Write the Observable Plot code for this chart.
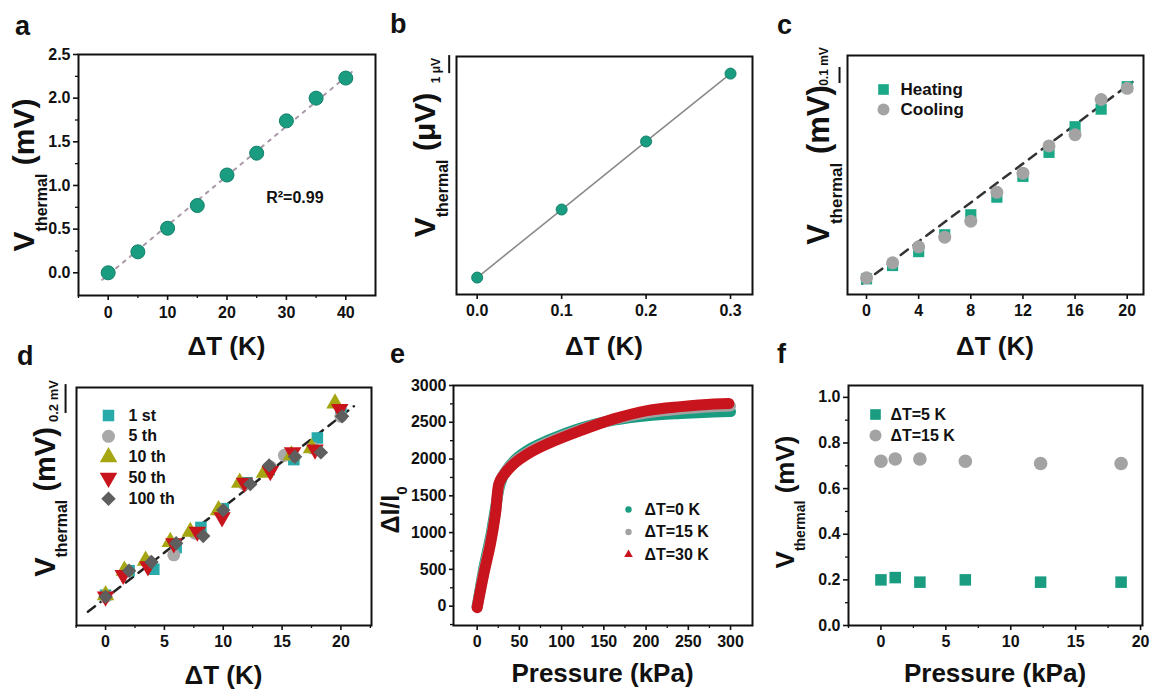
<!DOCTYPE html>
<html><head><meta charset="utf-8">
<script src="https://cdn.jsdelivr.net/npm/d3@7"></script>
<script src="https://cdn.jsdelivr.net/npm/@observablehq/plot@0.6"></script>
<style>
body{margin:0;background:#fff;}
#fig{position:relative;width:1153px;height:691px;overflow:hidden;font-family:"Liberation Sans",Arial,Helvetica,sans-serif;font-weight:bold;color:#111;background:#fff;}
.panel{position:absolute;}
.txt{position:absolute;white-space:nowrap;font-weight:bold;line-height:1;}
.sub{position:relative;}
</style></head>
<body><div id="fig"></div>
<script>
// ---------- Panel a ----------
const aDeltaT = [0,5,10,15,20,25,30,35,40];
const aVth = [0,0.24,0.51,0.77,1.12,1.37,1.74,2.00,2.23];
const aFitDeltaT = [-1,41];
const aFitV = [-0.08,2.30];
const aXTicks = [0,10,20,30,40];
const aXMinor = [-5,5,15,25,35];
const aYTicks = [0,0.5,1,1.5,2,2.5];
const aYMinor = [0.25,0.75,1.25,1.75,2.25];
const aNote = "R²=0.99";
const aNotePos = [26.6,0.86];

// ---------- Panel b (μV) ----------
const bDeltaT = [0,0.1,0.2,0.3];
const bVth = [0,3.78,7.56,11.33];
const bXTicks = [0,0.1,0.2,0.3];
const bScaleBar = [11.33,12.33];
const bScaleText = "1 μV";

// ---------- Panel c ----------
const cDeltaT = [0,2,4,6,8,10,12,14,16,18,20];
const cHeating = [0,0.083,0.17,0.275,0.40,0.51,0.64,0.79,0.95,1.06,1.20];
const cCooling = [0.006,0.10,0.20,0.26,0.36,0.54,0.66,0.83,0.90,1.12,1.19];
const cFitDeltaT = [-0.33,20.4];
const cFitV = [-0.03,1.23];
const cXTicks = [0,4,8,12,16,20];
const cScaleBar = [1.22,1.32];
const cScaleText = "0.1 mV";
const cSeries = ["Heating","Cooling"];

// ---------- Panel d ----------
const dSeries = ["1 st","5 th","10 th","50 th","100 th"];
const d1stT = [0,2.0,4.1,6.0,8.1,10.0,12.0,13.9,16.0,18.0,20.0];
const d1stV = [0,0.17,0.18,0.33,0.47,0.60,0.78,0.87,0.94,1.09,1.26];
const d5thT = [0,1.8,3.7,5.8,7.6,9.8,11.8,14.0,15.2,17.6,20.0];
const d5thV = [-0.01,0.17,0.23,0.28,0.43,0.59,0.77,0.89,0.97,1.02,1.24];
const d10thT = [0,1.6,3.4,5.5,7.2,9.6,11.4,13.5,15.8,17.5,19.5];
const d10thV = [0,0.17,0.24,0.37,0.44,0.59,0.78,0.85,0.97,1.02,1.33];
const d50thT = [0,1.5,3.6,5.8,7.8,9.9,11.8,14.0,15.9,17.8,19.9];
const d50thV = [-0.01,0.14,0.20,0.36,0.44,0.54,0.78,0.86,0.99,1.01,1.29];
const d100thT = [0,2.0,3.9,6.0,8.3,10.0,12.3,13.9,16.1,18.3,20.1];
const d100thV = [-0.01,0.17,0.23,0.36,0.41,0.59,0.77,0.90,0.96,0.99,1.24];
const dFitDeltaT = [-1.5,21.1];
const dFitV = [-0.115,1.31];
const dXTicks = [0,5,10,15,20];
const dXMinor = [-2.5,2.5,7.5,12.5,17.5,22.5];
const dScaleBar = [1.26,1.46];
const dScaleText = "0.2 mV";

// ---------- Panel e ----------
const eSeries = ["ΔT=0 K","ΔT=15 K","ΔT=30 K"];
const e0P = [0,1,8,16,22,27,33,45,63,83,122,162,201,241,280,300];
const e0I = [0,60,520,950,1350,1650,1820,1990,2140,2250,2420,2530,2590,2620,2640,2645];
const e15P = [0,1,8,16,22,26,30,43,63,83,122,162,201,241,280,300];
const e15I = [-10,50,480,900,1300,1650,1770,1950,2110,2225,2400,2540,2630,2680,2710,2720];
const e30P = [0,1,7.9,15.8,21.7,25.7,29.6,43.4,63.2,82.9,122.4,161.9,201.4,240.9,280.3,298];
const e30I = [-20,40,440,848,1255,1663,1753,1935,2093,2206,2387,2546,2659,2713,2750,2755];
const eXTicks = [0,50,100,150,200,250,300];
const eXMinor = [25,75,125,175,225,275];
const eYTicks = [0,500,1000,1500,2000,2500,3000];
const eYMinor = [-250,250,750,1250,1750,2250,2750];

// ---------- Panel f ----------
const fSeries = ["ΔT=5 K","ΔT=15 K"];
const fPressure = [0,1.1,3.0,6.5,12.3,18.5];
const f5K = [0.20,0.21,0.19,0.20,0.19,0.19];
const f15K = [0.72,0.73,0.73,0.72,0.71,0.71];
const fXTicks = [0,5,10,15,20];
const fXMinor = [-2.5,2.5,7.5,12.5,17.5];
const fYTicks = [0,0.2,0.4,0.6,0.8,1.0];
const fYMinor = [0.1,0.3,0.5,0.7,0.9];

// ---------- colours ----------
const teal = "#199c80", tealC = "#1aa887", cyan = "#29aaaa", grey = "#a3a3a3",
      olive = "#a6a612", red = "#c8141c", dark = "#5e5e5e";

const triangleDown = {
  draw(context, size) {
    const y = -Math.sqrt(size / (Math.sqrt(3) * 3));
    context.moveTo(0, -y * 2);
    context.lineTo(-Math.sqrt(3) * y, y);
    context.lineTo(Math.sqrt(3) * y, y);
    context.closePath();
  }
};

const FONT = '"Liberation Sans", Arial, Helvetica, sans-serif';
const fig = document.getElementById("fig");
const zip = (xs, ys) => xs.map((x, i) => ({x, y: ys[i]}));

function axX(ticks, pad = 5, fmt) {
  return Plot.axisX({ticks, tickSize: 5, tickPadding: pad, label: null, strokeWidth: 1.6, ...(fmt ? {tickFormat: fmt} : {})});
}
function axXMinor(ticks) {
  return Plot.axisX({ticks, tickSize: 3, tickFormat: () => "", label: null, strokeWidth: 1.3});
}
function axY(ticks, fmt, size = 5, pad = 3) {
  return Plot.axisY({ticks, tickSize: size, tickPadding: pad, label: null, strokeWidth: 1.6, tickFormat: fmt});
}
function axYMinor(ticks, size = 3) {
  return Plot.axisY({ticks, tickSize: size, tickFormat: () => "", label: null, strokeWidth: 1.3});
}
function legendRow(symbol, fill, label, dx, dy, textDx, r, fontSize) {
  return [
    Plot.dot([label], {x: null, y: null, frameAnchor: "top-left", dx, dy, symbol, fill, r}),
    Plot.text([label], {x: null, y: null, frameAnchor: "top-left", dx: textDx, dy, textAnchor: "start", lineAnchor: "middle", fontSize, fill: "#111"})
  ];
}

function panel(cfg) {
  const svg = Plot.plot({
    width: cfg.w, height: cfg.h,
    marginLeft: cfg.mL, marginRight: cfg.mR, marginTop: cfg.mT, marginBottom: cfg.mB,
    x: {domain: cfg.xd, label: null},
    y: {domain: cfg.yd, label: null, ...(cfg.noY ? {axis: null} : {})},
    style: {background: "transparent", fontFamily: FONT, fontSize: "16px", fontWeight: "bold", color: "#111", overflow: "visible"},
    marks: [...cfg.marks, Plot.frame({stroke: "#111", strokeWidth: 2})]
  });
  const div = document.createElement("div");
  div.className = "panel";
  div.style.left = cfg.left + "px";
  div.style.top = cfg.top + "px";
  div.style.width = cfg.w + "px";
  div.appendChild(svg);
  fig.appendChild(div);
}

function text(html, cx, cy, size, rotate) {
  const d = document.createElement("div");
  d.className = "txt";
  d.innerHTML = html;
  d.style.left = cx + "px";
  d.style.top = cy + "px";
  d.style.fontSize = size + "px";
  d.style.transform = "translate(-50%,-50%)" + (rotate ? " rotate(-90deg)" : "");
  fig.appendChild(d);
}
function vlabel(unit, cx, cy, size, subSize) {
  text(`V<span class="sub" style="font-size:${subSize}px;top:${0.42*size}px">thermal</span> (${unit})`, cx, cy, size, true);
}

// ---------- a ----------
panel({left: 0, top: 0, w: 390, h: 340, mL: 78, mR: 15, mT: 54, mB: 45,
  xd: [-5, 45], yd: [-0.26, 2.5],
  marks: [
    axX(aXTicks, 6), axXMinor(aXMinor),
    axY(aYTicks, d3.format(".1f")), axYMinor(aYMinor),
    Plot.line(zip(aFitDeltaT, aFitV), {x: "x", y: "y", stroke: "#a898a8", strokeWidth: 2, strokeDasharray: "3,6"}),
    Plot.dot(zip(aDeltaT, aVth), {x: "x", y: "y", r: 7, fill: teal, stroke: "#11806a", strokeWidth: 1}),
    Plot.text([aNote], {x: () => aNotePos[0], y: () => aNotePos[1], text: d => d, textAnchor: "start", fontSize: 16, fill: "#111"})
  ]});

// ---------- b ----------
panel({left: 380, top: 0, w: 390, h: 340, mL: 76, mR: 18, mT: 56, mB: 46,
  xd: [-0.0245, 0.326], yd: [-0.94, 12.28], noY: true,
  marks: [
    axX(bXTicks, 5, d3.format(".1f")),
    Plot.line(zip(bDeltaT, bVth), {x: "x", y: "y", stroke: "#8a8a8a", strokeWidth: 1.6}),
    Plot.dot(zip(bDeltaT, bVth), {x: "x", y: "y", r: 5.5, fill: teal, stroke: "#11806a", strokeWidth: 1}),
    Plot.ruleX([{x: 0, y1: bScaleBar[0], y2: bScaleBar[1]}], {x: "x", y1: "y1", y2: "y2", dx: -28, stroke: "#111", strokeWidth: 2}),
    Plot.text([{x: 0, y: (bScaleBar[0] + bScaleBar[1]) / 2}], {x: "x", y: "y", text: () => bScaleText, rotate: -90, dx: -41, dy: 6, fontSize: 12, fill: "#111"})
  ]});

// ---------- c ----------
panel({left: 760, top: 0, w: 393, h: 340, mL: 87, mR: 10, mT: 55, mB: 46,
  xd: [-1.46, 21.25], yd: [-0.098, 1.395], noY: true,
  marks: [
    axX(cXTicks, 5),
    Plot.line(zip(cFitDeltaT, cFitV), {x: "x", y: "y", stroke: "#333", strokeWidth: 2.5, strokeDasharray: "9,7"}),
    Plot.dot(zip(cDeltaT, cHeating), {x: "x", y: "y", symbol: "square", r: 6.3, fill: tealC}),
    Plot.dot(zip(cDeltaT, cCooling), {x: "x", y: "y", symbol: "circle", r: 6.5, fill: grey}),
    Plot.ruleX([{x: 0, y1: cScaleBar[0], y2: cScaleBar[1]}], {x: "x", y1: "y1", y2: "y2", dx: -27, stroke: "#111", strokeWidth: 2}),
    Plot.text([{x: 0, y: cScaleBar[1]}], {x: "x", y: "y", text: () => cScaleText, rotate: -90, dx: -42, dy: -1, fontSize: 12, fill: "#111"}),
    ...legendRow("square", tealC, cSeries[0], 36, 34, 53, 6, 17),
    ...legendRow("circle", grey, cSeries[1], 36, 54, 53, 6, 17)
  ]});

// ---------- d ----------
const dSymbols = ["square", "circle", "triangle", triangleDown, "diamond2"];
const dColors = [cyan, "#a9a9a9", olive, red, dark];
const dT = [d1stT, d5thT, d10thT, d50thT, d100thT];
const dV = [d1stV, d5thV, d10thV, d50thV, d100thV];
panel({left: 0, top: 340, w: 390, h: 351, mL: 76, mR: 19, mT: 47, mB: 66,
  xd: [-2.47, 22.6], yd: [-0.21, 1.44], noY: true,
  marks: [
    axX(dXTicks, 5), axXMinor(dXMinor),
    Plot.line(zip(dFitDeltaT, dFitV), {x: "x", y: "y", stroke: "#222", strokeWidth: 2.5, strokeDasharray: "9,7"}),
    ...dSeries.map((s, i) => Plot.dot(zip(dT[i], dV[i]), {x: "x", y: "y", symbol: dSymbols[i], r: 6.5, fill: dColors[i]})),
    Plot.ruleX([{x: 0, y1: dScaleBar[0], y2: dScaleBar[1]}], {x: "x", y1: "y1", y2: "y2", dx: -40, stroke: "#111", strokeWidth: 2}),
    Plot.text([{x: 0, y: (dScaleBar[0] + dScaleBar[1]) / 2}], {x: "x", y: "y", text: () => dScaleText, rotate: -90, dx: -52, dy: 2, fontSize: 13, fill: "#111"}),
    ...dSeries.flatMap((s, i) => legendRow(dSymbols[i], dColors[i], s, 32, 28 + i * 20.8, 52, 6.5, 16))
  ]});

// ---------- e ----------
const eP = [e0P, e15P, e30P];
const eI = [e0I, e15I, e30I];
const eColors = [teal, grey, red];
const eSymbols = ["circle", "circle", "triangle"];
panel({left: 380, top: 340, w: 390, h: 351, mL: 73, mR: 18, mT: 45, mB: 66,
  xd: [-28, 326], yd: [-263, 3000],
  marks: [
    axX(eXTicks, 5), axXMinor(eXMinor),
    axY(eYTicks, d3.format("d"), 4, 3), axYMinor(eYMinor, 3),
    ...eSeries.map((s, i) => Plot.line(zip(eP[i], eI[i]), {x: "x", y: "y", stroke: eColors[i], strokeWidth: 11, strokeLinecap: "round", strokeLinejoin: "round", curve: "catmull-rom"})),
    ...eSeries.flatMap((s, i) => legendRow(eSymbols[i], eColors[i], s, 175, 124 + i * 22.5, 191, 3.2, 16))
  ]});

// ---------- f ----------
panel({left: 760, top: 340, w: 393, h: 351, mL: 88, mR: 11, mT: 45, mB: 66,
  xd: [-2.5, 20.15], yd: [0, 1.052],
  marks: [
    axX(fXTicks, 5), axXMinor(fXMinor),
    axY(fYTicks, d3.format(".1f")), axYMinor(fYMinor),
    Plot.dot(zip(fPressure, f5K), {x: "x", y: "y", symbol: "square", r: 6.5, fill: teal}),
    Plot.dot(zip(fPressure, f15K), {x: "x", y: "y", symbol: "circle", r: 6.8, fill: grey}),
    ...legendRow("square", teal, fSeries[0], 27, 29, 42, 6, 16),
    ...legendRow("circle", grey, fSeries[1], 27, 50, 42, 6, 16)
  ]});

// ---------- panel letters ----------
[["a", 15, 13], ["b", 390, 11], ["c", 777, 12], ["d", 17, 343], ["e", 390, 341], ["f", 777, 341]].forEach(([l, x, y]) => {
  const d = document.createElement("div");
  d.className = "txt"; d.textContent = l;
  d.style.left = x + "px"; d.style.top = y + "px"; d.style.fontSize = "27px";
  fig.appendChild(d);
});

// ---------- axis titles ----------
text("ΔT (K)", 226.5, 346, 26);
text("ΔT (K)", 604, 346, 26);
text("ΔT (K)", 995, 346, 26);
text("ΔT (K)", 223.5, 675, 26);
text("Pressure (kPa)", 602.5, 673, 26);
text("Pressure (kPa)", 995, 673, 26);

vlabel("mV", 24, 175, 30, 16);
vlabel("μV", 425, 165, 30, 16);
vlabel("mV", 818, 165, 31, 17);
vlabel("mV", 45, 502, 29, 16);
vlabel("mV", 785, 502, 26, 14);
text('ΔI/I<span class="sub" style="font-size:15px;top:8px">0</span>', 390, 510, 25, true);
</script></body></html>
